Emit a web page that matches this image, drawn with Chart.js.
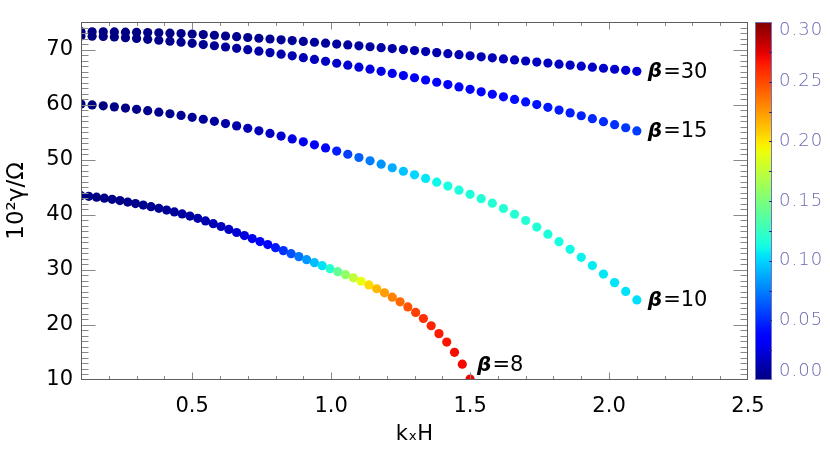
<!DOCTYPE html>
<html>
<head>
<meta charset="utf-8">
<script src="https://cdn.jsdelivr.net/npm/chart.js@4.4.0/dist/chart.umd.min.js"></script>
<style>
  body { margin: 0; background: #fff; }
  #wrap { width: 830px; height: 467px; }
</style>
</head>
<body>
<div id="wrap"><canvas id="growthChart"></canvas></div>
<script>
// k_x H grid of the beta = 10, 15, 30 runs
const kxLong = [0.10,0.14,0.18,0.22,0.26,0.30,0.34,0.38,0.42,0.46,
  0.50,0.54,0.58,0.62,0.66,0.70,0.74,0.78,0.82,0.86,
  0.90,0.94,0.98,1.02,1.06,1.10,1.14,1.18,1.22,1.26,
  1.30,1.34,1.38,1.42,1.46,1.50,1.54,1.58,1.62,1.66,
  1.70,1.74,1.78,1.82,1.86,1.90,1.94,1.98,2.02,2.06,
  2.10];
// k_x H grid of the beta = 8 run
const kxShort = [0.100,0.128,0.156,0.184,0.212,0.240,0.268,0.296,0.324,0.352,
  0.380,0.408,0.436,0.464,0.492,0.520,0.548,0.576,0.604,0.632,
  0.660,0.688,0.716,0.744,0.772,0.800,0.828,0.856,0.884,0.912,
  0.940,0.968,0.996,1.024,1.052,1.080,1.108,1.136,1.164,1.192,
  1.220,1.248,1.276,1.304,1.332,1.360,1.388,1.416,1.444,1.472,
  1.500];

// 10^2 gamma / Omega
const gamma30 = [73.24,73.23,73.21,73.19,73.16,73.12,73.08,73.03,72.97,72.90,
  72.82,72.71,72.59,72.46,72.33,72.19,72.05,71.91,71.77,71.62,
  71.47,71.32,71.16,71.00,70.84,70.68,70.51,70.34,70.17,69.99,
  69.81,69.63,69.44,69.25,69.06,68.87,68.68,68.49,68.30,68.11,
  67.92,67.73,67.54,67.35,67.17,66.98,66.79,66.60,66.42,66.23,
  66.05];
const gamma15 = [72.46,72.43,72.37,72.28,72.16,72.02,71.86,71.69,71.51,71.32,
  71.12,70.91,70.69,70.46,70.22,69.97,69.71,69.44,69.16,68.85,
  68.53,68.20,67.86,67.51,67.16,66.80,66.43,66.05,65.67,65.28,
  64.88,64.47,64.06,63.64,63.21,62.77,62.33,61.88,61.42,60.95,
  60.48,60.00,59.51,59.01,58.50,57.98,57.45,56.91,56.36,55.80,
  55.22];
const gamma10 = [60.10,59.95,59.78,59.59,59.38,59.15,58.90,58.63,58.34,58.03,
  57.70,57.34,56.96,56.56,56.14,55.70,55.24,54.77,54.28,53.77,
  53.24,52.70,52.14,51.56,50.99,50.40,49.80,49.18,48.54,47.90,
  47.25,46.59,45.91,45.21,44.47,43.71,42.92,42.10,41.14,40.09,
  38.96,37.76,36.48,35.12,33.72,32.27,30.77,29.24,27.68,26.08,
  24.53];
const gamma8 = [43.47,43.35,43.20,43.02,42.81,42.57,42.31,42.04,41.76,41.47,
  41.17,40.85,40.51,40.15,39.77,39.35,38.89,38.39,37.87,37.33,
  36.78,36.23,35.68,35.13,34.58,34.03,33.49,32.94,32.40,31.85,
  31.31,30.76,30.22,29.67,29.13,28.55,27.93,27.27,26.57,25.83,
  25.04,24.19,23.27,22.27,21.17,19.85,18.42,16.88,15.02,12.88,
  10.18];

// colour-coded quantity (colour bar 0 - 0.30)
const col30 = [0.001,0.001,0.001,0.001,0.001,0.001,0.002,0.002,0.002,0.002,
  0.003,0.003,0.003,0.003,0.004,0.004,0.004,0.005,0.005,0.006,
  0.006,0.007,0.007,0.008,0.008,0.009,0.009,0.010,0.010,0.011,
  0.011,0.012,0.012,0.013,0.013,0.014,0.014,0.015,0.015,0.016,
  0.016,0.017,0.017,0.018,0.018,0.019,0.019,0.020,0.020,0.021,
  0.022];
const col15 = [0.001,0.001,0.001,0.001,0.002,0.002,0.002,0.003,0.003,0.004,
  0.004,0.005,0.006,0.007,0.008,0.009,0.010,0.011,0.012,0.013,
  0.014,0.016,0.017,0.019,0.021,0.023,0.025,0.027,0.029,0.030,
  0.031,0.033,0.034,0.035,0.036,0.037,0.038,0.039,0.040,0.041,
  0.042,0.043,0.044,0.045,0.046,0.047,0.049,0.050,0.052,0.053,
  0.055];
const col10 = [0.001,0.001,0.001,0.002,0.002,0.003,0.003,0.004,0.004,0.005,
  0.006,0.007,0.008,0.010,0.011,0.013,0.015,0.018,0.021,0.025,
  0.029,0.033,0.038,0.046,0.056,0.066,0.074,0.081,0.088,0.095,
  0.101,0.106,0.110,0.113,0.115,0.116,0.117,0.118,0.118,0.118,
  0.118,0.117,0.115,0.113,0.111,0.109,0.107,0.106,0.105,0.104,
  0.103];
const col8 = [0.001,0.001,0.001,0.002,0.002,0.002,0.003,0.003,0.004,0.004,
  0.005,0.006,0.007,0.008,0.009,0.010,0.012,0.014,0.016,0.018,
  0.021,0.024,0.028,0.033,0.038,0.045,0.052,0.061,0.072,0.082,
  0.093,0.104,0.120,0.140,0.158,0.175,0.190,0.204,0.214,0.223,
  0.232,0.240,0.247,0.253,0.258,0.262,0.265,0.267,0.269,0.270,
  0.271];

const betaLabels = ["30", "15", "10", "8"];
const xTicks = [0.5, 1.0, 1.5, 2.0, 2.5];
const yTicks = [10, 20, 30, 40, 50, 60, 70];
const cbarTicks = [0, 0.05, 0.10, 0.15, 0.20, 0.25, 0.30];
const cbarMax = 0.30;

const FONT = '"DejaVu Sans", sans-serif';

// jet colour table
function seg(t, pts) {
  for (let i = 1; i < pts.length; i++) {
    if (t <= pts[i][0]) {
      const [t0, v0] = pts[i - 1], [t1, v1] = pts[i];
      return v0 + (v1 - v0) * (t - t0) / (t1 - t0);
    }
  }
  return pts[pts.length - 1][1];
}
function jet(c) {
  const t = Math.min(1, Math.max(0, c / cbarMax));
  const r = seg(t, [[0, 0], [0.35, 0], [0.66, 1], [0.89, 1], [1, 0.5]]);
  const g = seg(t, [[0, 0], [0.125, 0], [0.375, 1], [0.64, 1], [0.91, 0], [1, 0]]);
  const b = seg(t, [[0, 0.5], [0.11, 1], [0.34, 1], [0.65, 0], [1, 0]]);
  return `rgb(${Math.round(r * 255)},${Math.round(g * 255)},${Math.round(b * 255)})`;
}

function makeSet(kx, gam, col, beta) {
  return {
    label: "beta=" + beta,
    data: kx.map((x, i) => ({ x: x, y: gam[i] })),
    pointBackgroundColor: col.map(jet),
    pointBorderWidth: 0,
    pointRadius: 4.6,
    pointHoverRadius: 4.6,
    showLine: false,
    clip: 0,
  };
}

const frameTicks = {
  id: "frameTicks",
  afterDatasetsDraw(chart) {
    const { ctx, chartArea: a, scales } = chart;
    const x = scales.x, y = scales.y, cb = scales.cb;
    ctx.save();

    // beta labels next to the last point of each curve
    chart.data.datasets.forEach((ds, di) => {
      const pts = chart.getDatasetMeta(di).data;
      const p = pts[pts.length - 1];
      let lx = p.x + 11, ly = p.y + 1;
      if (di === 3) { lx = p.x + 7; ly = p.y - 13; }
      ctx.textBaseline = "middle";
      ctx.textAlign = "left";
      ctx.fillStyle = "#000";
      ctx.font = "bold italic 20px " + FONT;
      ctx.fillText("β", lx, ly);
      const w = ctx.measureText("β").width;
      ctx.font = "21px " + FONT;
      ctx.fillText("=" + betaLabels[di], lx + w + 1, ly);
    });

    // box and inward ticks
    const L = Math.round(a.left) + 0.5, R = Math.round(a.right) - 0.5;
    const T = Math.round(a.top) + 0.5, B = Math.round(a.bottom) - 0.5;
    ctx.lineWidth = 1;
    ctx.strokeStyle = "#888";
    ctx.beginPath();
    for (let k = 2; k <= 24; k++) {
      const v = k / 10;
      const len = k % 5 === 0 ? 7 : 3.5;
      const px = Math.round(x.getPixelForValue(v)) + 0.5;
      ctx.moveTo(px, B); ctx.lineTo(px, B - len);
      ctx.moveTo(px, T); ctx.lineTo(px, T + len);
    }
    for (let v = 11; v <= 74; v++) {
      const len = v % 10 === 0 ? 14 : 7;
      const py = Math.round(y.getPixelForValue(v)) + 0.5;
      ctx.moveTo(L, py); ctx.lineTo(L + len, py);
      ctx.moveTo(R, py); ctx.lineTo(R - len, py);
    }
    ctx.stroke();
    ctx.strokeStyle = "#5e5e5e";
    ctx.strokeRect(L, T, R - L, B - T);

    // colour bar
    const bl = a.right + 7, bw = 17;
    const top = cb.getPixelForValue(cbarMax), bot = cb.getPixelForValue(0);
    const grad = ctx.createLinearGradient(0, bot, 0, top);
    for (let s = 0; s <= 60; s++) grad.addColorStop(s / 60, jet(cbarMax * s / 60));
    ctx.fillStyle = grad;
    ctx.fillRect(bl, top, bw, bot - top);
    ctx.strokeStyle = "#7474b8";
    ctx.strokeRect(bl + 0.5, top + 0.5, bw - 1, bot - top - 1);
    ctx.strokeStyle = "#2a2a90";
    ctx.beginPath();
    for (let k = 1; k < 12; k++) {
      const py = Math.round(cb.getPixelForValue(k * 0.025)) + 0.5;
      ctx.moveTo(bl + bw - 3, py); ctx.lineTo(bl + bw, py);
    }
    ctx.stroke();

    ctx.fillStyle = "#6b6bb0";
    ctx.font = "200 18px " + FONT;
    ctx.textAlign = "left";
    ctx.textBaseline = "middle";
    if ("letterSpacing" in ctx) ctx.letterSpacing = "1px";
    cbarTicks.forEach(v => {
      let py = cb.getPixelForValue(v);
      py = Math.min(bot - 9, Math.max(top + 8, py));
      ctx.fillText(v.toFixed(2), bl + bw + 7, py);
    });
    ctx.restore();
  }
};

new Chart(document.getElementById("growthChart"), {
  type: "scatter",
  data: {
    datasets: [
      makeSet(kxLong, gamma30, col30, betaLabels[0]),
      makeSet(kxLong, gamma15, col15, betaLabels[1]),
      makeSet(kxLong, gamma10, col10, betaLabels[2]),
      makeSet(kxShort, gamma8, col8, betaLabels[3]),
    ],
  },
  options: {
    responsive: true,
    maintainAspectRatio: false,
    animation: false,
    layout: { padding: { top: 22, left: 0, right: 0, bottom: 0 } },
    plugins: { legend: { display: false }, tooltip: { enabled: false } },
    scales: {
      x: {
        type: "linear",
        position: "bottom",
        min: 0.1,
        max: 2.5,
        afterBuildTicks: s => { s.ticks = xTicks.map(v => ({ value: v })); },
        afterFit: s => { s.height = 87; },
        grid: { display: false, drawTicks: false },
        border: { display: false },
        ticks: {
          color: "#000",
          font: { family: FONT, size: 21 },
          padding: 14,
          maxRotation: 0,
          autoSkip: false,
          callback: v => v.toFixed(1),
        },
        title: {
          display: true,
          text: "kₓH",
          color: "#000",
          font: { family: FONT, size: 21 },
          padding: { top: 0, bottom: 20 },
        },
      },
      y: {
        type: "linear",
        position: "left",
        min: 10,
        max: 75,
        afterBuildTicks: s => { s.ticks = yTicks.map(v => ({ value: v })); },
        afterFit: s => { s.width = 81; },
        grid: { display: false, drawTicks: false },
        border: { display: false },
        ticks: {
          color: "#000",
          font: { family: FONT, size: 21 },
          padding: 8,
          callback: v => String(v),
        },
        title: {
          display: true,
          text: "10²γ/Ω",
          color: "#000",
          font: { family: FONT, size: 23 },
          padding: { top: 3, bottom: 0 },
        },
      },
      cb: {
        type: "linear",
        axis: "y",
        position: "right",
        min: 0,
        max: cbarMax,
        afterFit: s => { s.width = 82; },
        grid: { display: false, drawTicks: false },
        border: { display: false },
        ticks: { display: false },
      },
    },
  },
  plugins: [frameTicks],
});
</script>
</body>
</html>
